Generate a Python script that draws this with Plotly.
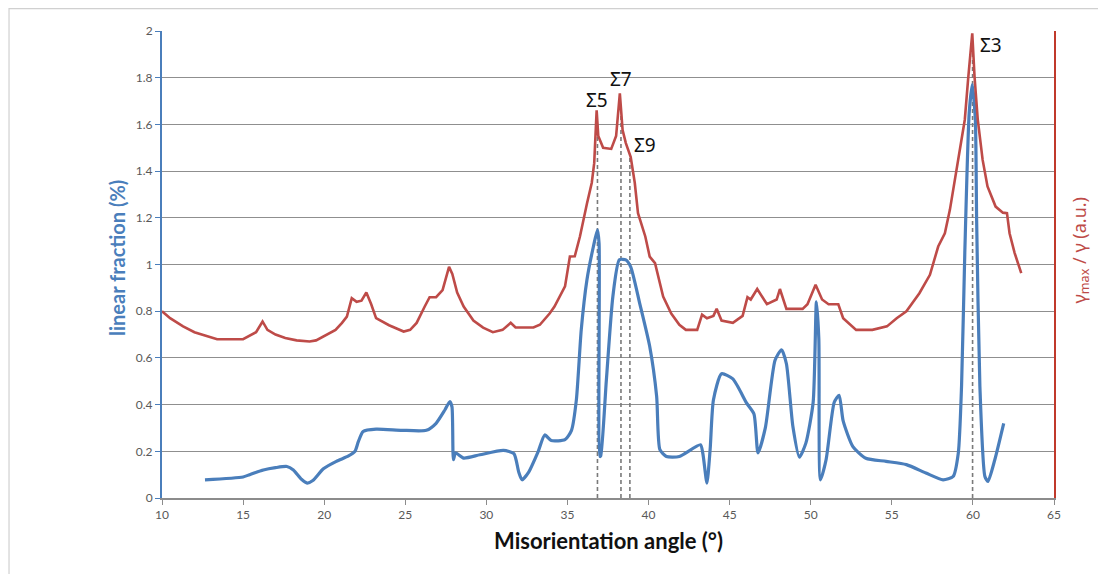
import plotly.graph_objects as go

# ---------------- data ----------------
blue_angle = [12.65, 15.0, 15.4, 16.25, 17.0, 17.7, 18.1, 18.6, 18.95, 19.3,
              19.95, 20.75, 21.5, 21.9, 22.1, 22.4, 23.2, 24.8, 26.3, 26.9,
              27.45, 27.75, 27.88, 27.97, 28.1, 28.6, 29.6, 31.05, 31.7, 32.0,
              32.2, 32.6, 33.2, 33.6, 34.0, 34.85, 35.25, 35.55, 35.85, 36.2,
              36.6, 36.85, 36.95, 37.0, 37.05, 37.4, 37.8, 38.2, 38.6, 38.9,
              39.45, 40.07, 40.5, 40.7, 41.1, 41.9, 43.2, 43.35, 43.6, 43.8,
              44.0, 44.5, 45.2, 46.05, 46.5, 46.75, 47.2, 47.8, 48.2, 48.5,
              48.9, 49.3, 49.7, 50.15, 50.35, 50.5, 50.6, 50.95, 51.45, 51.75,
              52.0, 52.6, 53.4, 54.65, 55.9, 57.1, 58.16, 58.78, 59.1, 59.3,
              59.5, 59.77, 59.96, 60.15, 60.23, 60.43, 60.74, 60.93, 61.35, 61.9]
blue_fraction = [0.078, 0.09, 0.10, 0.12, 0.13, 0.135, 0.12, 0.08, 0.064, 0.075,
                 0.125, 0.157, 0.18, 0.20, 0.24, 0.285, 0.295, 0.29, 0.29, 0.32,
                 0.378, 0.413, 0.39, 0.164, 0.193, 0.171, 0.185, 0.204, 0.19, 0.11,
                 0.078, 0.11, 0.20, 0.27, 0.246, 0.25, 0.29, 0.42, 0.72, 0.934,
                 1.077, 1.148, 1.09, 0.178, 0.18, 0.506, 0.863, 1.02, 1.02, 0.99,
                 0.835, 0.65, 0.435, 0.207, 0.178, 0.178, 0.228, 0.19, 0.064, 0.21,
                 0.42, 0.532, 0.51, 0.406, 0.36, 0.193, 0.3, 0.59, 0.635, 0.575,
                 0.306, 0.175, 0.235, 0.41, 0.84, 0.68, 0.078, 0.165, 0.41, 0.44,
                 0.33, 0.22, 0.17, 0.157, 0.143, 0.107, 0.078, 0.092, 0.193, 0.48,
                 1.05, 1.648, 1.77, 1.62, 1.19, 0.48, 0.092, 0.071, 0.164, 0.32]

red_angle = [10.0, 10.5, 11.3, 12.0, 12.7, 13.4, 15.0, 15.3, 15.8, 16.2,
             16.5, 17.0, 17.6, 18.3, 19.1, 19.5, 19.9, 20.7, 21.1, 21.4,
             21.7, 22.0, 22.3, 22.6, 22.9, 23.2, 24.0, 24.9, 25.3, 25.7,
             26.2, 26.5, 26.9, 27.3, 27.7, 27.9, 28.2, 28.6, 29.2, 29.8,
             30.4, 31.0, 31.5, 31.8, 32.9, 33.3, 33.9, 34.2, 34.85, 35.15,
             35.45, 35.77, 36.2, 36.5, 36.65, 36.7, 36.8, 36.9, 37.2, 37.7,
             38.0, 38.23, 38.4, 38.6, 38.9, 39.15, 39.35, 39.8, 40.07, 40.4,
             40.9, 41.4, 41.9, 42.3, 43.0, 43.3, 43.6, 44.0, 44.2, 44.5,
             45.2, 45.8, 46.1, 46.3, 46.7, 47.3, 47.9, 48.1, 48.5, 49.5,
             49.8, 50.3, 50.7, 51.1, 51.7, 52.0, 52.8, 53.8, 54.7, 55.3,
             55.9, 56.7, 57.35, 57.86, 58.27, 58.58, 58.78, 59.09, 59.3, 59.5,
             59.7, 59.96, 60.1, 60.3, 60.6, 60.9, 61.4, 61.85, 62.1, 62.26,
             62.57, 62.98]
red_ratio = [0.80, 0.77, 0.735, 0.71, 0.695, 0.68, 0.68, 0.69, 0.71, 0.756,
             0.72, 0.70, 0.685, 0.675, 0.67, 0.675, 0.69, 0.72, 0.75, 0.777,
             0.856, 0.84, 0.845, 0.88, 0.83, 0.77, 0.74, 0.713, 0.72, 0.75,
             0.82, 0.86, 0.86, 0.89, 0.99, 0.96, 0.88, 0.82, 0.76, 0.73,
             0.71, 0.72, 0.75, 0.73, 0.73, 0.742, 0.79, 0.82, 0.906, 1.034,
             1.035, 1.12, 1.26, 1.35, 1.434, 1.52, 1.66, 1.55, 1.50, 1.495,
             1.55, 1.733, 1.576, 1.52, 1.46, 1.35, 1.22, 1.12, 1.034, 1.006,
             0.863, 0.79, 0.742, 0.72, 0.72, 0.785, 0.77, 0.78, 0.81, 0.76,
             0.75, 0.78, 0.86, 0.85, 0.895, 0.83, 0.85, 0.895, 0.81, 0.81,
             0.83, 0.913, 0.85, 0.83, 0.83, 0.77, 0.72, 0.72, 0.735, 0.77,
             0.80, 0.877, 0.956, 1.077, 1.134, 1.234, 1.32, 1.448, 1.548, 1.62,
             1.79, 1.99, 1.805, 1.62, 1.448, 1.334, 1.248, 1.222, 1.22, 1.134,
             1.05, 0.963]

sigma_labels = ["Σ5", "Σ7", "Σ9", "Σ3"]
sigma_angles = [36.85, 38.3, 38.85, 59.98]
sigma_line_tops = [1.60, 1.68, 1.47, 1.93]
sigma_label_x = [36.8, 38.33, 39.8, 61.1]
sigma_label_y = [1.705, 1.795, 1.512, 1.94]

x_ticks = list(range(10, 66, 5))
y_ticks = [0, 0.2, 0.4, 0.6, 0.8, 1, 1.2, 1.4, 1.6, 1.8, 2]

BLUE = "#4a7ebb"
RED = "#be4b48"
GRID = "#8f8f8f"

fig = go.Figure()

# dashed sigma lines
for ang, top in zip(sigma_angles, sigma_line_tops):
    fig.add_trace(go.Scatter(x=[ang, ang], y=[0, top], mode="lines",
                             line=dict(color="#7a7a7a", width=1.6, dash="4px,3px"),
                             hoverinfo="skip", showlegend=False))

fig.add_trace(go.Scatter(x=red_angle, y=red_ratio, mode="lines",
                         line=dict(color=RED, width=2.6),
                         yaxis="y2", showlegend=False, name="γmax/γ"))
fig.add_trace(go.Scatter(x=blue_angle, y=blue_fraction, mode="lines",
                         line=dict(color=BLUE, width=3.2, shape="spline", smoothing=0.6),
                         showlegend=False, name="linear fraction"))

for lab, lx, ly in zip(sigma_labels, sigma_label_x, sigma_label_y):
    fig.add_annotation(x=lx, y=ly, text=lab, showarrow=False,
                       xanchor="center", yanchor="middle",
                       font=dict(family="Noto Sans", size=19, color="#111111"))

fig.update_layout(
    width=1106, height=574,
    margin=dict(l=154, r=60, t=23, b=84),
    paper_bgcolor="white", plot_bgcolor="white",
    showlegend=False,
    font=dict(family="Lato", size=12, color="#595959"),
    xaxis=dict(range=[10, 65], tickvals=x_ticks, ticks="outside", ticklen=5,
               tickcolor="#8c8c8c", showline=True, linecolor="#8c8c8c", linewidth=1.5,
               showgrid=False, zeroline=False, tickfont=dict(size=12, color="#595959")),
    yaxis=dict(range=[0, 2], tickvals=y_ticks, ticks="outside", ticklen=5,
               tickcolor=BLUE, showline=True, linecolor=BLUE, linewidth=2,
               showgrid=True, gridcolor=GRID, gridwidth=1, zeroline=False,
               tickfont=dict(size=12, color="#595959")),
    yaxis2=dict(range=[0, 2], overlaying="y", side="right", showticklabels=False,
                ticks="", showline=True, linecolor="#c0392b", linewidth=2,
                showgrid=False, zeroline=False),
)

# axis titles
fig.add_annotation(xref="paper", yref="paper", x=0.5, y=0, yshift=-42,
                   xanchor="center", yanchor="middle",
                   text="<b>Misorientation angle (°)</b>", showarrow=False,
                   font=dict(family="Lato", size=22, color="#111111"))
fig.add_annotation(xref="paper", yref="paper", x=0, xshift=-45, y=0.514,
                   xanchor="center", yanchor="middle",
                   text="<b>linear fraction (%)</b>", showarrow=False, textangle=-90,
                   font=dict(family="Lato", size=20, color=BLUE))
fig.add_annotation(xref="paper", yref="paper", x=1, xshift=26, y=0.53,
                   xanchor="center", yanchor="middle",
                   text="γ<sub>max</sub> / γ (a.u.)", showarrow=False, textangle=-90,
                   font=dict(family="Noto Sans", size=18, color=RED))

# outer frame (left and top edges visible)
fig.add_shape(type="rect", xref="paper", yref="paper",
              x0=-0.1715, x1=1.2, y0=-0.4, y1=1.048,
              line=dict(color="#d0d0d0", width=1.2), layer="below")

fig.write_html("out.html")
